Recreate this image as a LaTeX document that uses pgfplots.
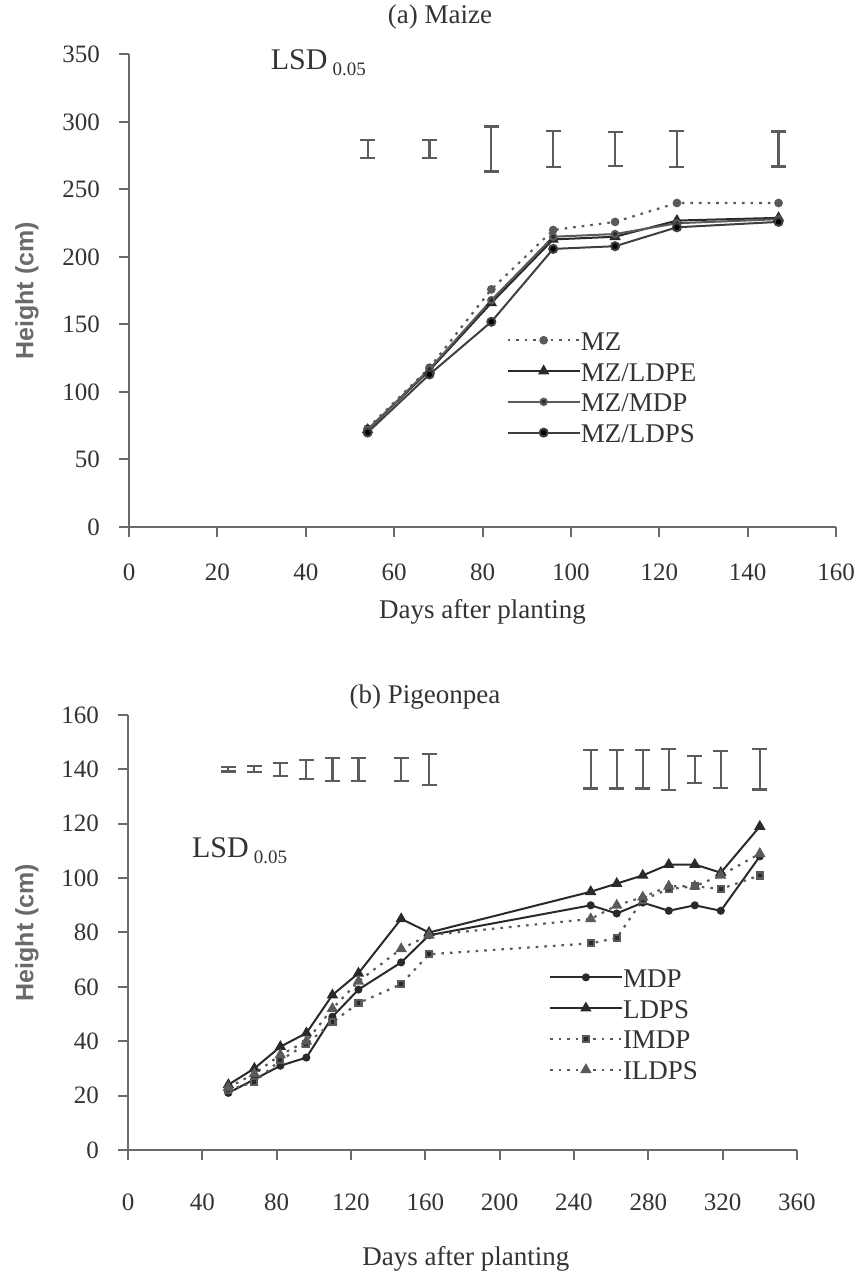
\documentclass[border=0pt]{standalone}
\usepackage{fontspec}
\setmainfont{Liberation Serif}
\newfontfamily\labfont{Liberation Sans}
\usepackage{pgfplots}
\pgfplotsset{compat=1.18}
\definecolor{axgray}{HTML}{6A6A6A}
\definecolor{txtgray}{HTML}{333333}
\definecolor{ln}{HTML}{2A2A2A}
\definecolor{lngray}{HTML}{5A5A5A}
\definecolor{errgray}{HTML}{5C5C5C}
\pgfplotsset{
  mystyle/.style={
    scale only axis, clip=false,
    axis lines=left,
    axis line style={axgray, line width=1pt, -},
    tick style={axgray, line width=1pt},
    tick align=outside,
    major tick length=5pt,
    ticklabel style={font=\fontsize{12.5}{14}\selectfont, text=txtgray},
    yticklabel style={xshift=-6pt},
    /pgf/number format/assume math mode=true,
    label style={font=\fontsize{13.5}{15}\selectfont, text=txtgray},
    ylabel style={font=\labfont\bfseries\fontsize{12.5}{14}\selectfont, text=axgray},
    legend style={draw=none, fill=none, font=\fontsize{13.5}{15}\selectfont, text=txtgray,
      nodes={inner sep=0pt, text height=10pt, text depth=0pt}, row sep=5.4pt},
    legend cell align=left,
    legend image code/.code={\draw[mark repeat=2,mark phase=2,##1] plot coordinates {(0pt,0pt) (18pt,0pt) (36pt,0pt)};},
    /tikz/every even column/.style={column sep=5pt},
  },
  errs/.style={only marks, mark=*, mark size=0pt, mark options={draw=none, fill=none}, forget plot,
    error bars/.cd, y dir=both, y explicit,
    error bar style={color=errgray, line width=1.1pt, solid},
    error mark=|,
    error mark options={color=errgray, line width=1.1pt, mark size=3.75pt, draw=errgray}},
}
\pgfplotstableread{
day  MZ   LDPE MDP  LDPS
54   73   72   72   70
68   118  116  117  113
82   176  166  168  152
96   220  213  215  206
110  226  215  217  208
124  240  227  225  222
147  240  229  228  226
}\maize
\pgfplotstableread{
day MDP LDPS IMDP ILDPS
54  21  24   22   23
68  26  30   25   28
82  31  38   33   35
96  34  43   39   40
110 49  57   47   52
124 59  65   54   62
147 69  85   61   74
162 79  80   72   79
249 90  95   76   85
263 87  98   78   90
277 91  101  92   93
291 88  105  96   97
305 90  105  97   97
319 88  102  96   101
340 108 119  101  109
}\pigeon
\begin{document}
\begin{tikzpicture}
\useasboundingbox (0,0) rectangle (429.5pt,637.5pt);
\node[font=\fontsize{13.5}{15}\selectfont, text=txtgray] at (220pt,629pt) {(a) Maize};
\node[font=\fontsize{13.5}{15}\selectfont, text=txtgray] at (212.5pt,289pt) {(b) Pigeonpea};
% ---------- top ----------
\begin{axis}[mystyle,
  at={(64.5pt,374pt)}, anchor=south west,
  width=353.5pt, height=236.25pt,
  xmin=0, xmax=160, ymin=0, ymax=350,
  xtick={0,20,...,160}, ytick={0,50,...,350},
  xticklabel style={yshift=-10pt},
  xlabel={Days after planting}, ylabel={Height (cm)},
  xlabel style={at={(axis description cs:0.5,-0.18)}, anchor=center},
  ylabel style={at={(axis description cs:-0.1443,0.5)}, anchor=center},
  legend style={at={(axis cs:84,149)}, anchor=north west},
]
\addplot[errs] coordinates {
 (54,280) +- (0,6.5)
 (68,280) +- (0,6.5)
 (82,280) +- (0,16.7)
 (96,280) +- (0,13.6)
 (110,280) +- (0,12.3)
 (124,280) +- (0,13.6)
 (147,280) +- (0,13)
};
\addplot[lngray, line width=1.1pt, dash pattern=on 1.3pt off 3pt, mark=*, mark size=1.6pt, mark options={solid, fill=lngray}] table[x=day, y=MZ] {\maize};
\addlegendentry{MZ}
\addplot[ln, line width=1pt, mark=triangle*, mark size=2.3pt, mark options={solid, fill=ln}] table[x=day, y=LDPE] {\maize};
\addlegendentry{MZ/LDPE}
\addplot[lngray, line width=1pt, mark=*, mark size=1.6pt, mark options={solid, fill=ln}] table[x=day, y=MDP] {\maize};
\addlegendentry{MZ/MDP}
\addplot[ln!90, line width=1pt, mark=*, mark size=2pt, mark options={solid, fill=black}] table[x=day, y=LDPS] {\maize};
\addlegendentry{MZ/LDPS}
\node[anchor=west, text=txtgray, font=\fontsize{15}{17}\selectfont] at (axis cs:30.5,344) {LSD\,\raisebox{-0.4ex}{\fontsize{9.5}{10}\selectfont 0.05}};
\end{axis}
% ---------- bottom ----------
\begin{axis}[mystyle,
  at={(64pt,62.5pt)}, anchor=south west,
  width=334.5pt, height=217.5pt,
  xmin=0, xmax=360, ymin=0, ymax=160,
  xtick={0,40,...,360}, ytick={0,20,...,160},
  xticklabel style={yshift=-13.5pt},
  xlabel={Days after planting}, ylabel={Height (cm)},
  xlabel style={at={(axis description cs:0.505,-0.25)}, anchor=center},
  ylabel style={at={(axis description cs:-0.151,0.5)}, anchor=center},
  legend style={at={(axis cs:223,68.8)}, anchor=north west},
]
\addplot[errs] coordinates {
 (54,140) +- (0,0.8)
 (68,140) +- (0,1.1)
 (82,140) +- (0,2.4)
 (96,140) +- (0,3.4)
 (110,140) +- (0,4.3)
 (124,140) +- (0,4.3)
 (147,140) +- (0,4.3)
 (162,140) +- (0,5.8)
 (249,140) +- (0,7)
 (263,140) +- (0,7)
 (277,140) +- (0,7)
 (291,140) +- (0,7.5)
 (305,140) +- (0,5)
 (319,140) +- (0,6.8)
 (340,140) +- (0,7.4)
};
\addplot[ln, line width=1pt, mark=*, mark size=1.5pt, mark options={solid, fill=ln}] table[x=day, y=MDP] {\pigeon};
\addlegendentry{MDP}
\addplot[ln, line width=1pt, mark=triangle*, mark size=2.3pt, mark options={solid, fill=ln}] table[x=day, y=LDPS] {\pigeon};
\addlegendentry{LDPS}
\addplot[lngray, line width=1.1pt, dash pattern=on 1.3pt off 3pt, mark=square*, mark size=1.5pt, mark options={solid, fill=ln}] table[x=day, y=IMDP] {\pigeon};
\addlegendentry{IMDP}
\addplot[lngray, line width=1.1pt, dash pattern=on 1.3pt off 3pt, mark=triangle*, mark size=2.2pt, mark options={solid, fill=lngray}] table[x=day, y=ILDPS] {\pigeon};
\addlegendentry{ILDPS}
\node[anchor=west, text=txtgray, font=\fontsize{15}{17}\selectfont] at (axis cs:30.7,110) {LSD\,\raisebox{-0.4ex}{\fontsize{9.5}{10}\selectfont 0.05}};
\end{axis}
\end{tikzpicture}
\end{document}
